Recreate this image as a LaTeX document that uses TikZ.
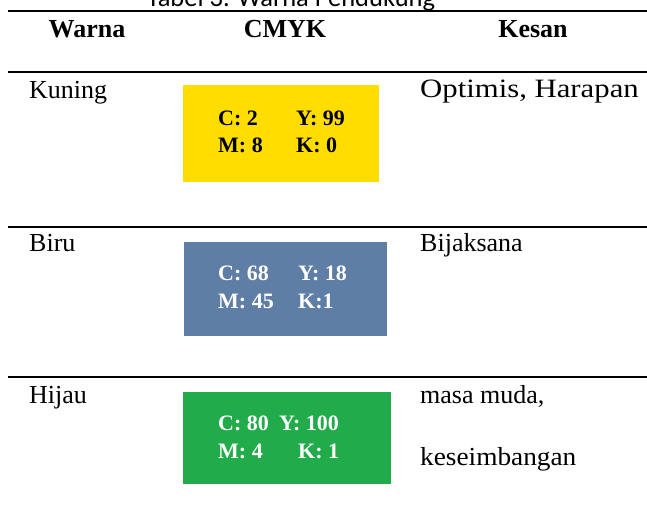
\documentclass[tikz,border=0pt]{standalone}
\usepackage{fontspec}
\usepackage{graphicx}
\setmainfont{Liberation Serif}
\newfontfamily\titlefont{Carlito}
\definecolor{cyel}{HTML}{FFDD00}
\definecolor{cblu}{HTML}{5F7EA6}
\definecolor{cgrn}{HTML}{22AB4B}
\begin{document}
\begin{tikzpicture}[x=1pt,y=-1pt,
  rule/.style={line width=2.2pt},
  hdr/.style={inner sep=0pt,anchor=base,font=\fontsize{26}{30}\selectfont\bfseries},
  cell/.style={inner sep=0pt,anchor=base west,font=\fontsize{26}{30}\selectfont},
  val/.style={inner sep=0pt,anchor=base west,font=\fontsize{22}{25}\selectfont\bfseries}]
\useasboundingbox (0,0) rectangle (647,522);
\clip (0,0) rectangle (647,522);
% title (cut off at top)
\node[inner sep=0pt,anchor=base,font=\titlefont\fontsize{26.5}{30}\selectfont] (title) at (291,6) {Tabel 3. Warna Pendukung};
% rules
\coordinate (r1a) at (8,11); \coordinate (r1b) at (647,11);
\coordinate (r2a) at (8,72); \coordinate (r2b) at (647,72);
\coordinate (r3a) at (8,227); \coordinate (r3b) at (647,227);
\coordinate (r4a) at (8,377); \coordinate (r4b) at (647,377);
\draw[rule] (r1a) -- (r1b);
\draw[rule] (r2a) -- (r2b);
\draw[rule] (r3a) -- (r3b);
\draw[rule] (r4a) -- (r4b);
% header
\node[hdr] (hw) at (87,37) {Warna};
\node[hdr] (hc) at (285,37) {CMYK};
\node[hdr] (hk) at (533,37) {Kesan};
% row 1
\node[cell] (k1) at (29,98) {Kuning};
\node[cell,font=\fontsize{26.5}{30}\selectfont] (s1) at (420,97) {\scalebox{1.16}[1]{Optimis, Harapan}};
\fill[cyel] (183,85) rectangle (379,182);
\node[val] (y1) at (218,125) {C: 2};
\node[val] (y2) at (296,125) {Y: 99};
\node[val] (y3) at (218,152) {M: 8};
\node[val] (y4) at (296,152) {K: 0};
% row 2
\node[cell] (k2) at (29,251) {Biru};
\node[cell] (s2) at (420,251) {Bijaksana};
\fill[cblu] (184,242) rectangle (387,336);
\node[val,text=white] (b1) at (218,280) {C: 68};
\node[val,text=white] (b2) at (298,280) {Y: 18};
\node[val,text=white] (b3) at (218,308) {M: 45};
\node[val,text=white] (b4) at (298,308) {K:1};
% row 3
\node[cell] (k3) at (29,403) {Hijau};
\node[cell] (s3) at (420,403) {masa muda,};
\node[cell] (s4) at (420,465) {\scalebox{1.05}[1]{keseimbangan}};
\fill[cgrn] (183,392) rectangle (391,484);
\node[val,text=white] (g1) at (218,430) {C: 80};
\node[val,text=white] (g2) at (279,430) {Y: 100};
\node[val,text=white] (g3) at (218,458) {M: 4};
\node[val,text=white] (g4) at (298,458) {K: 1};
\end{tikzpicture}
\end{document}
